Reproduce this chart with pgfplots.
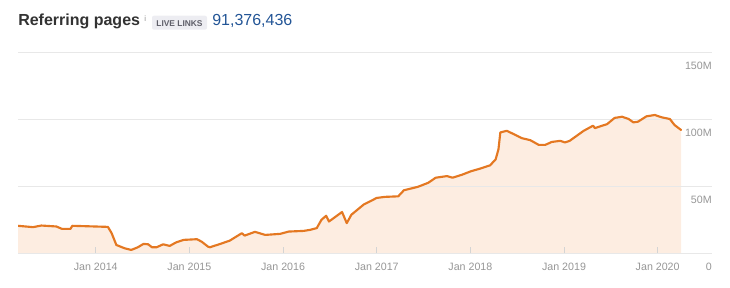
\documentclass[border=0pt]{standalone}
\usepackage{pgfplots}
\pgfplotsset{compat=1.18}
\usepackage{pgfplotstable}
\usepackage{fontspec}
\setmainfont{Liberation Sans}
\definecolor{lineor}{RGB}{228,120,34}
\definecolor{fillor}{RGB}{253,237,225}
\definecolor{gridc}{RGB}{232,232,232}
\definecolor{basec}{RGB}{212,212,212}
\definecolor{tickc}{RGB}{150,150,150}
\definecolor{titlec}{RGB}{51,51,51}
\definecolor{numc}{RGB}{35,85,150}
\definecolor{badgebg}{RGB}{237,237,242}
\definecolor{badgetx}{RGB}{95,95,105}

\pgfplotstableread{
x y
2013.17 20.3
2013.33 19.3
2013.42 20.5
2013.58 19.8
2013.64 18.0
2013.73 18.0
2013.75 20.3
2014.13 19.5
2014.17 14.8
2014.22 6.0
2014.31 3.5
2014.38 2.3
2014.45 4.3
2014.51 6.8
2014.56 6.5
2014.60 4.3
2014.65 4.3
2014.72 6.5
2014.79 5.3
2014.86 8.0
2014.94 9.8
2015.08 10.3
2015.13 8.5
2015.20 4.7
2015.22 4.3
2015.33 6.8
2015.43 9.2
2015.56 14.8
2015.59 13.0
2015.70 15.8
2015.81 13.5
2015.97 14.3
2016.06 16.0
2016.22 16.5
2016.29 17.3
2016.36 18.6
2016.41 24.8
2016.46 27.8
2016.49 23.5
2016.63 30.6
2016.68 22.3
2016.73 28.6
2016.86 36.1
2017.00 41.1
2017.09 41.9
2017.23 42.3
2017.29 46.8
2017.44 49.4
2017.55 52.4
2017.63 56.2
2017.75 57.4
2017.81 56.2
2017.91 58.4
2018.01 61.1
2018.10 62.9
2018.21 65.4
2018.27 69.9
2018.30 77.4
2018.32 90.0
2018.39 91.2
2018.55 85.7
2018.64 84.2
2018.73 80.7
2018.80 80.7
2018.87 82.9
2018.96 83.7
2019.01 82.5
2019.06 83.7
2019.21 91.2
2019.31 95.0
2019.33 93.2
2019.46 96.2
2019.54 100.8
2019.62 101.7
2019.69 100.0
2019.74 97.5
2019.79 98.0
2019.88 102.0
2019.97 103.0
2020.04 101.3
2020.13 100.0
2020.18 95.5
2020.25 91.8
}\refdata

\begin{document}
\begin{tikzpicture}
\path (-13.5pt,-25.5pt) rectangle (534pt,189.75pt);
\begin{axis}[
  set layers=standard,
  scale only axis, width=520.5pt, height=150.75pt,
  xmin=2013.17, xmax=2020.58, ymin=0, ymax=150,
  axis line style={draw=none},
  xtick={2014,2015,2016,2017,2018,2019,2020},
  xticklabels={Jan 2014,Jan 2015,Jan 2016,Jan 2017,Jan 2018,Jan 2019,Jan 2020},
  ytick={0,50,100,150},
  yticklabels={0,50M,100M,150M},
  ymajorgrids,
  grid style={gridc, line width=0.75pt},
  xtick pos=bottom,
  tick align=inside, major tick length=4.5pt,
  ytick style={draw=none},
  xtick style={basec, line width=0.75pt},
  yticklabel pos=right,
  /pgf/number format/assume math mode=true,
  ticklabel style={font=\fontsize{8}{9}\selectfont, text=tickc},
  xticklabel style={anchor=base, inner sep=0pt, yshift=-12.75pt},
  yticklabel style={anchor=base east, inner sep=0pt, yshift=-12.75pt},
]
\addplot[draw=none, fill=fillor, on layer=axis background] table {\refdata} \closedcycle;
\addplot[lineor, line width=1.6pt, line join=round, line cap=round] table {\refdata};
\end{axis}
\node[anchor=base west, inner sep=0pt, text=titlec, font=\fontsize{12}{14}\selectfont\bfseries] at (0pt,171pt) {Referring pages};
\node[anchor=base west, inner sep=0pt, text=tickc, font=\fontsize{6}{7}\selectfont] at (94.5pt,174pt) {i};
\fill[badgebg, rounded corners=1.5pt] (100.5pt,167.5pt) rectangle (141.75pt,178pt);
\node[anchor=base, inner sep=0pt, text=badgetx, font=\fontsize{6.3}{7}\selectfont\bfseries] at (121.1pt,170.25pt) {LIVE LINKS};
\node[anchor=base west, inner sep=0pt, text=numc, font=\fontsize{12}{14}\selectfont] at (145.5pt,171pt) {91,376,436};
\end{tikzpicture}
\end{document}
